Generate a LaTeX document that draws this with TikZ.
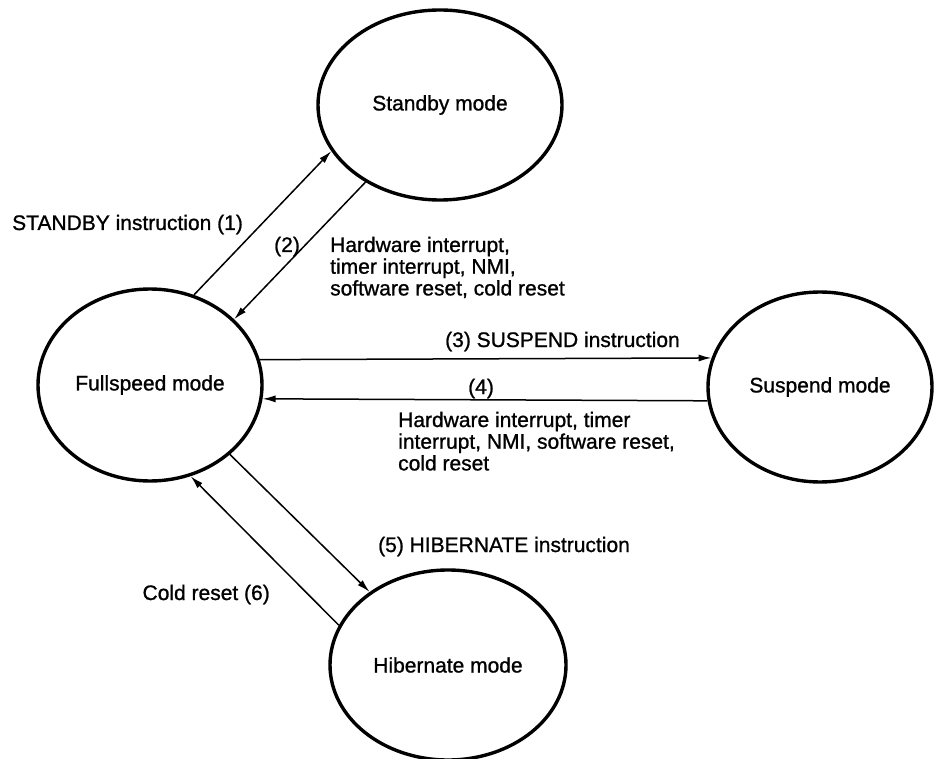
\documentclass[tikz,border=0pt]{standalone}
\usepackage{fontspec}
\setmainfont{Liberation Sans}[FakeBold=1.0]
\usetikzlibrary{arrows.meta,shapes.geometric}

\begin{document}
\begin{tikzpicture}[x=1pt,y=-1pt,
  every node/.style={font=\fontsize{21}{21.7}\selectfont},
  modebox/.style={ellipse,draw,line width=3.4pt,inner sep=0pt},
  trans/.style={line width=1.5pt,-{Latex[length=13pt,width=7pt]}},
  lbl/.style={inner sep=0pt,align=left}
]
\path[use as bounding box] (0,0) rectangle (937,759);

% power modes
\node[modebox,minimum width=244pt,minimum height=190pt] (stby) at (440,105) {Standby mode};
\node[modebox,minimum width=224pt,minimum height=192pt] (full) at (150,385) {Fullspeed mode};
\node[modebox,minimum width=224pt,minimum height=190pt] (susp) at (820,387) {Suspend mode};
\node[modebox,minimum width=236pt,minimum height=190pt] (hib) at (448,665) {Hibernate mode};

% transitions
\draw[trans] (full.64.5) -- (stby.203.5);
\draw[trans] (stby.226.9) -- (full.38.9);
\draw[trans] (full.13.56) -- (susp.165.3);
\draw[trans] (susp.-173.3) -- (full.-7.72);
\draw[trans] (full.-41.9) -- (hib.137.5);
\draw[trans] (hib.160.6) -- (full.-66.5);

% transition labels (multi-line labels sit on the baseline of their last line)
\node[lbl,anchor=base west] (l1) at (12,230) {STANDBY instruction (1)};
\node[lbl,anchor=base west] (l2) at (274,252) {(2)};
\node[lbl,anchor=base west] (l2t) at (330,295.4) {Hardware interrupt,\\timer interrupt, NMI,\\software reset, cold reset};
\node[lbl,anchor=base west] (l3) at (445,347) {(3) SUSPEND instruction};
\node[lbl,anchor=base west] (l4) at (468,394) {(4)};
\node[lbl,anchor=base west] (l4t) at (398,470.4) {Hardware interrupt, timer\\interrupt, NMI, software reset,\\cold reset};
\node[lbl,anchor=base west] (l5) at (378,552) {(5) HIBERNATE instruction};
\node[lbl,anchor=base east] (l6) at (270,600) {Cold reset (6)};
\end{tikzpicture}
\end{document}
